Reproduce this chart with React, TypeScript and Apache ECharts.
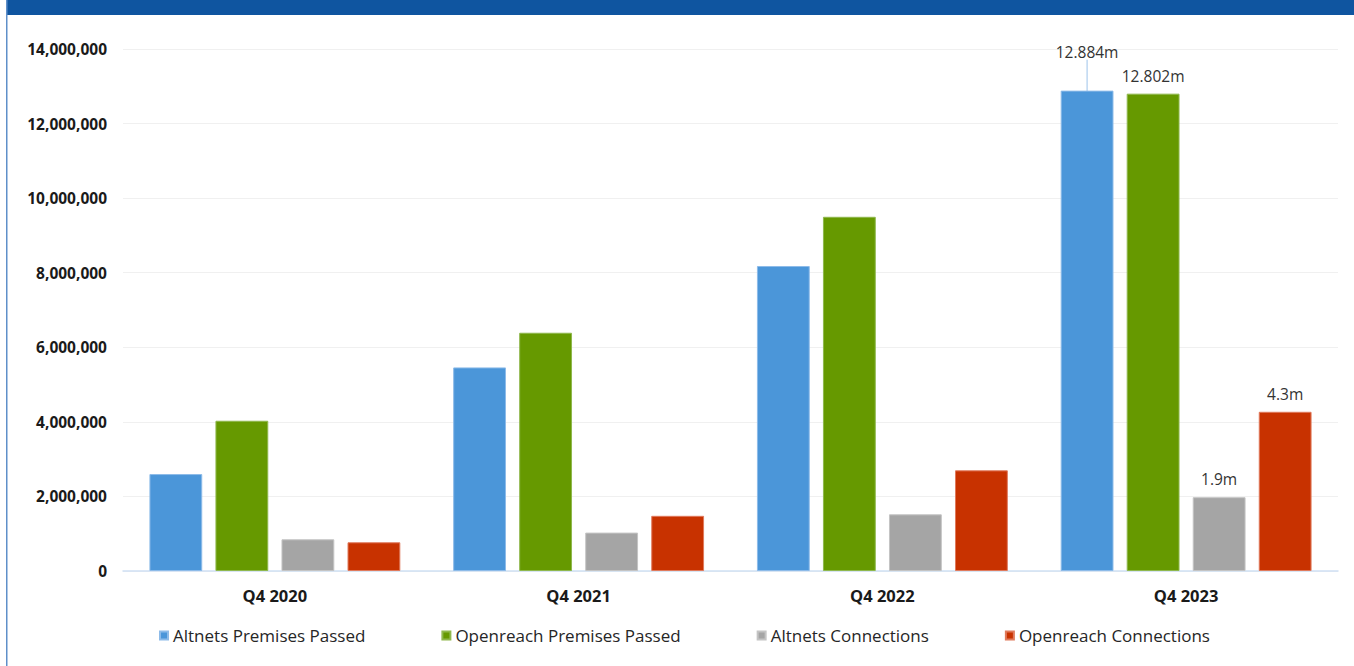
import React, { useEffect, useRef } from "react";
import * as echarts from "echarts";

const categories = ["Q4 2020", "Q4 2021", "Q4 2022", "Q4 2023"];
const seriesNames = [
  "Altnets Premises Passed",
  "Openreach Premises Passed",
  "Altnets Connections",
  "Openreach Connections",
];
const altnetsPassed = [2600000, 5460000, 8180000, 12884000];
const openreachPassed = [4030000, 6390000, 9500000, 12802000];
const altnetsConnections = [850000, 1030000, 1520000, 1980000];
const openreachConnections = [770000, 1480000, 2700000, 4270000];
// labels shown only on the last category
const lastLabels = ["12.884m", "12.802m", "1.9m", "4.3m"];

const colors = ["#4b96d9", "#669900", "#a5a5a5", "#c83200"];
const borderColors = ["#8dbbe9", "#8fb84d", "#c4c4c4", "#e07a5c"];

export default function App() {
  const ref = useRef<HTMLDivElement>(null);
  useEffect(() => {
    const chart = echarts.init(ref.current!, undefined, { renderer: "svg" });
    const dataSets = [altnetsPassed, openreachPassed, altnetsConnections, openreachConnections];
    const lastIdx = categories.length - 1;
    const series = dataSets.map((arr, si) => {
      const s: any = {
        name: seriesNames[si],
        type: "bar",
        barGap: "25%",
        barCategoryGap: "17.4%",
        itemStyle: { color: colors[si], borderColor: borderColors[si], borderWidth: 1 },
        label: {
          show: false,
          position: "top",
          distance: 10,
          fontFamily: "Open Sans",
          fontSize: 15.5,
          color: "#333333",
        },
        data: arr.map((v, i) =>
          i === lastIdx ? { value: v, label: { show: true, formatter: lastLabels[si] } } : v
        ),
      };
      if (si === 0) {
        s.labelLayout = (p: any) => (p.dataIndex === lastIdx ? { dy: -21 } : {});
        s.labelLine = { show: true, lineStyle: { color: "#9dc3ea", width: 1 } };
      }
      return s;
    });
    chart.setOption({
      animation: false,
      backgroundColor: "#ffffff",
      color: colors,
      graphic: [
        { type: "rect", shape: { x: 6, y: 0, width: 1354, height: 15 }, style: { fill: "#0f55a0" } },
        { type: "rect", shape: { x: 6, y: 0, width: 1.5, height: 666 }, style: { fill: "#5f8fc9" } },
      ],
      grid: { left: 123, right: 16, top: 49, bottom: 95 },
      legend: {
        bottom: 17,
        left: 154,
        itemWidth: 8,
        itemHeight: 8,
        itemGap: 76,
        icon: "rect",
        textStyle: { fontFamily: "Open Sans", fontSize: 17, color: "#262626" },
        data: seriesNames,
      },
      xAxis: {
        type: "category",
        data: categories,
        axisLine: { lineStyle: { color: "#cfe0f3", width: 1.5 } },
        axisTick: { show: false },
        axisLabel: {
          fontFamily: "Open Sans",
          fontWeight: "bold",
          fontSize: 16.5,
          color: "#1a1a1a",
          margin: 16,
        },
      },
      yAxis: {
        type: "value",
        min: 0,
        max: 14000000,
        interval: 2000000,
        axisLine: { show: false },
        axisTick: { show: false },
        splitLine: { lineStyle: { color: "#f0f0f0", width: 1 } },
        axisLabel: {
          fontFamily: "Open Sans",
          fontWeight: "bold",
          fontSize: 15.5,
          color: "#1a1a1a",
          margin: 16,
          formatter: (v: number) => v.toLocaleString("en-US"),
        },
      },
      series,
    });
    return () => chart.dispose();
  }, []);
  return (
    <div
      ref={ref}
      style={{ position: "fixed", left: 0, top: 0, width: 1354, height: 666 }}
    />
  );
}
